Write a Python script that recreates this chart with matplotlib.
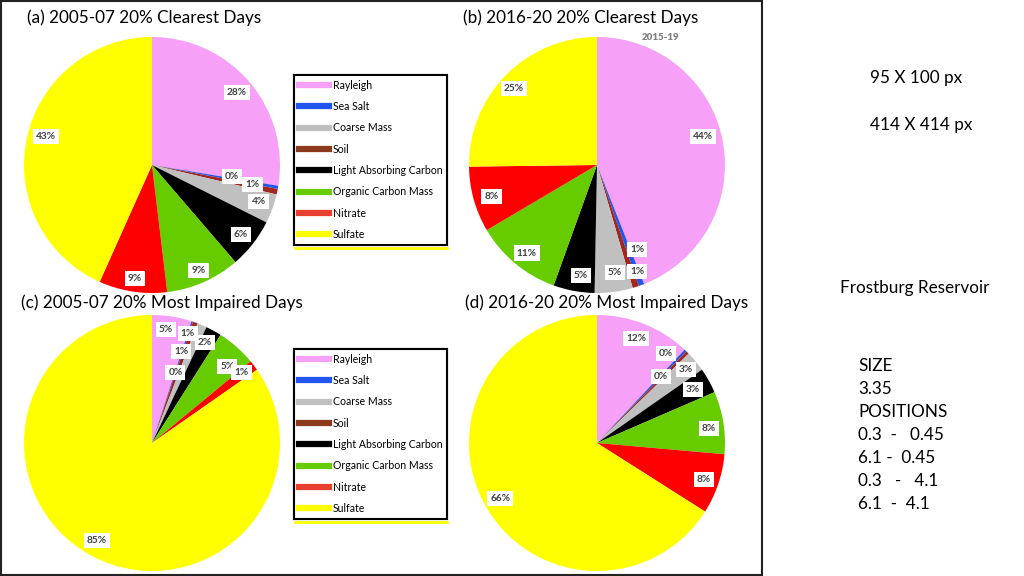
import numpy as np
import matplotlib
matplotlib.use("Agg")
from matplotlib import pyplot as plt
from matplotlib.lines import Line2D
from matplotlib.patches import Rectangle

plt.rcParams['font.family'] = ['Lato', 'DejaVu Sans']

# species, in the order they appear in the legend
species = ["Rayleigh", "Sea Salt", "Coarse Mass", "Soil", "Light Absorbing Carbon",
           "Organic Carbon Mass", "Nitrate", "Sulfate"]
species_colors = ["#F7A0F7", "#2255EE", "#C0C0C0", "#8B3A1E", "#000000",
                  "#66CC00", "#E84030", "#FFFF00"]

# wedge order inside the pies (clockwise from top)
pie_order = ["Rayleigh", "Sea Salt", "Soil", "Coarse Mass", "Light Absorbing Carbon",
             "Organic Carbon Mass", "Nitrate", "Sulfate"]
pie_colors = ["#F7A0F7", "#2255EE", "#A0281E", "#C0C0C0", "#000000",
              "#66CC00", "#FF0000", "#FFFF00"]

# percent contributions, pie order
clear_0507 = [27.6, 0.4, 0.7, 3.7, 6.3, 9.4, 8.6, 43.3]
clear_1620 = [44.0, 0.7, 0.8, 4.8, 5.2, 11.0, 8.3, 25.2]
impaired_0507 = [5.0, 0.2, 0.6, 1.2, 2.0, 5.0, 1.3, 84.7]
impaired_1620 = [12.0, 0.3, 0.4, 2.6, 3.2, 7.9, 7.6, 66.0]

titles = ["(a) 2005-07 20% Clearest Days", "(b) 2016-20 20% Clearest Days",
          "(c) 2005-07 20% Most Impaired Days", "(d) 2016-20 20% Most Impaired Days"]

# label placement tweaks: radius (fraction of pie) and clockwise shift in degrees
label_r = [
    [0.87, 0.63, 0.80, 0.88, 0.88, 0.90, 0.90, 0.86],
    [0.86, 0.73, 0.89, 0.85, 0.87, 0.88, 0.86, 0.88],
    [0.89, 0.58, 0.75, 0.90, 0.89, 0.84, 0.89, 0.875],
    [0.87, 0.88, 0.72, 0.90, 0.86, 0.88, 0.88, 0.87],
]
label_shift = [
    [0, -2, -1, -1, 0, 0, 0, 3],
    [-4, -5, -3, -2, -2, -1, -1, -2],
    [-2, 0, -2, -5, -1, 3, -1, 2],
    [-1, -6, -1, 0, 0, 2, 0, -1],
]

W, H = 1024, 576
fig = plt.figure(figsize=(W / 100, H / 100), dpi=100)

def px(x, y):
    return x / W, 1 - y / H

def draw_pie(values, cx, cy, r_px, radii, shifts):
    ax = fig.add_axes([(cx - r_px) / W, 1 - (cy + r_px) / H, 2 * r_px / W, 2 * r_px / H])
    wedges, _ = ax.pie(values, colors=pie_colors, startangle=90, counterclock=False,
                       radius=1, wedgeprops=dict(linewidth=0))
    for w, v, rr, sh in zip(wedges, values, radii, shifts):
        mid = np.deg2rad((w.theta1 + w.theta2) / 2 - sh)
        ax.text(rr * np.cos(mid), rr * np.sin(mid), "%d%%" % round(v),
                ha='center', va='center', fontsize=7.3, fontweight='bold', color='#404040',
                bbox=dict(boxstyle='square,pad=0.3', fc='white', ec='none'))
    ax.set_xlim(-1, 1)
    ax.set_ylim(-1, 1)
    ax.axis('off')
    return ax

draw_pie(clear_0507, 152, 165, 128, label_r[0], label_shift[0])
draw_pie(clear_1620, 597, 165, 128, label_r[1], label_shift[1])
draw_pie(impaired_0507, 152, 443, 128, label_r[2], label_shift[2])
draw_pie(impaired_1620, 597, 443, 128, label_r[3], label_shift[3])

title_pos = [(27, 18), (463, 18), (21, 303), (465, 303)]
for t, (x, y) in zip(titles, title_pos):
    fig.text(*px(x, y), t, ha='left', va='center', fontsize=12.3, color='black')

fig.text(*px(661, 38), "2015-19", ha='center', va='center', fontsize=7,
         fontweight='heavy', color='#7F7F7F')

# legends
handles = [Line2D([0], [0], color=c, lw=4.5) for c in species_colors]
for top in (75, 349):
    leg = fig.legend(handles, species, loc='upper left',
                     bbox_to_anchor=(294 / W, 1 - (top + 170) / H, 153 / W, 170 / H),
                     mode='expand', borderaxespad=0, fontsize=7.6, frameon=True,
                     fancybox=False, edgecolor='black', framealpha=1,
                     handlelength=2.9, handletextpad=0.3, labelspacing=0.98,
                     borderpad=0.45)
    leg.get_frame().set_linewidth(1.5)
    fig.add_artist(leg)
    fig.add_artist(Line2D([295 / W, 447 / W], [1 - (top + 173) / H] * 2,
                          color='#FFFF00', lw=2, transform=fig.transFigure))

# outer frame of the slide panel
fig.add_artist(Rectangle((1 / W, 1 - 575 / H), 761 / W, 574 / H, transform=fig.transFigure,
                         fill=False, ec='#222222', lw=1.5))

# side notes
fig.text(*px(870, 78), "95 X 100 px", ha='left', va='center', fontsize=12.3)
fig.text(*px(870, 125), "414 X 414 px", ha='left', va='center', fontsize=12.3)
fig.text(*px(840, 288), "Frostburg Reservoir", ha='left', va='center', fontsize=12.3)
notes = ["SIZE", "3.35", "POSITIONS", "0.3  -   0.45", "6.1 -  0.45",
         "0.3   -   4.1", "6.1  -  4.1"]
for i, s in enumerate(notes):
    fig.text(*px(858, 366 + i * 23.0), s, ha='left', va='center', fontsize=12.3)

fig.savefig("out.png", dpi=100)
